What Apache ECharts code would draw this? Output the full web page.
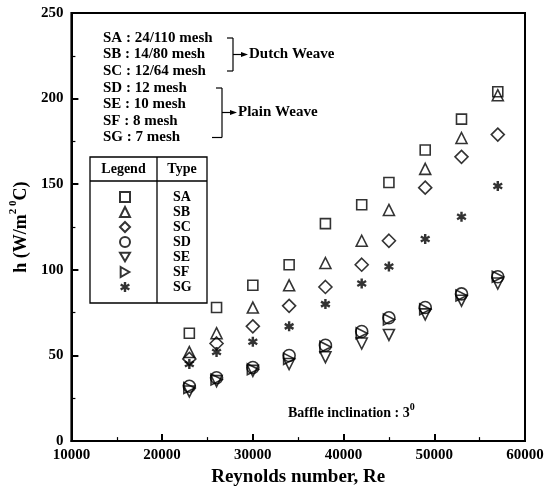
<!DOCTYPE html>
<html>
<head>
<meta charset="utf-8">
<script src="https://cdn.jsdelivr.net/npm/echarts@6/dist/echarts.min.js"></script>
<style>
  html, body { margin: 0; padding: 0; background: #fff; }
  #chart { width: 550px; height: 492px; }
</style>
</head>
<body>
<div id="chart"></div>
<script>
// ---- data ----
const reynolds = [23000, 26000, 30000, 34000, 38000, 42000, 45000, 49000, 53000, 57000];
const hSA = [63, 78, 91, 103, 127, 138, 151, 170, 188, 204];
const hSB = [52, 63, 78, 91, 104, 117, 135, 159, 177, 202];
const hSC = [48, 57, 67, 79, 90, 103, 117, 148, 166, 179];
const hSD = [32, 37, 43, 50, 56, 64, 72, 78, 86, 96];
const hSE = [29, 35, 41, 45, 49, 57, 62, 74, 82, 92];
const hSF = [31, 36, 42, 48, 55, 63, 71, 77, 85, 96];
const hSG = [45, 52, 58, 67, 80, 92, 102, 118, 131, 149];
const typeNames = ['SA', 'SB', 'SC', 'SD', 'SE', 'SF', 'SG'];
const meshLabels = ['SA : 24/110 mesh', 'SB : 14/80 mesh', 'SC : 12/64 mesh',
                    'SD : 12 mesh', 'SE : 10 mesh', 'SF : 8 mesh', 'SG : 7 mesh'];
const xTicks = { min: 10000, max: 60000, interval: 10000 };
const yTicks = { min: 0, max: 250, interval: 50 };

const FONT = '"Liberation Serif", "Times New Roman", serif';
const ASTERISK = 'path://M-1.2,-5L1.2,-5L1.2,5L-1.2,5Z M-4.93,-1.46L-3.73,-3.54L4.93,1.46L3.73,3.54Z M3.73,-3.54L4.93,-1.46L-3.73,3.54L-4.93,1.46Z';
const TRI_DOWN = 'path://M0,0L10,0L5,8.66Z';
const TRI_RIGHT = 'path://M0,0L8.66,5L0,10Z';

function pairs(ys) { return reynolds.map((x, i) => [x, ys[i]]); }

const hollow = { color: 'rgba(0,0,0,0)', borderColor: '#000', borderWidth: 1.6 };
const seriesDefs = [
  { name: 'SA', data: hSA, symbol: 'rect', size: 10, rotate: 0, icon: 'rect', style: hollow },
  { name: 'SB', data: hSB, symbol: 'triangle', size: 11, rotate: 0, icon: 'triangle', style: hollow },
  { name: 'SC', data: hSC, symbol: 'diamond', size: 13, rotate: 0, icon: 'diamond', style: hollow },
  { name: 'SD', data: hSD, symbol: 'circle', size: 12, rotate: 0, icon: 'circle', style: hollow },
  { name: 'SE', data: hSE, symbol: 'triangle', size: 11, rotate: 180, icon: TRI_DOWN, style: hollow },
  { name: 'SF', data: hSF, symbol: 'triangle', size: 11, rotate: -90, icon: TRI_RIGHT, style: hollow },
  { name: 'SG', data: hSG, symbol: ASTERISK, size: 10, rotate: 0, icon: ASTERISK, style: { color: '#000', borderWidth: 0 } }
];

const series = seriesDefs.map(d => ({
  name: d.name,
  type: 'scatter',
  data: pairs(d.data),
  symbol: d.symbol,
  symbolSize: d.size,
  symbolRotate: d.rotate,
  itemStyle: d.style,
  emphasis: { disabled: true },
  animation: false
}));

// ---- annotation graphics ----
const txt = (text, x, y, size, align) => ({
  type: 'text', silent: true,
  style: { text: text, x: x, y: y, font: 'bold ' + size + 'px ' + FONT, fill: '#000',
           textAlign: align || 'left', textVerticalAlign: 'middle' }
});
const ln = (x1, y1, x2, y2, w) => ({
  type: 'line', silent: true,
  shape: { x1: x1, y1: y1, x2: x2, y2: y2 },
  style: { stroke: '#000', lineWidth: w || 1.2 }
});
const arrowHead = (x, y) => ({
  type: 'polygon', silent: true,
  shape: { points: [[x, y], [x - 7, y - 2.5], [x - 7, y + 2.5]] },
  style: { fill: '#000' }
});

const meshY = [38, 54.5, 71, 88, 104.5, 121, 137.5];
const graphics = [];
meshLabels.forEach((t, i) => graphics.push(txt(t, 103, meshY[i], 15)));
// Dutch weave bracket
graphics.push(ln(227, 38, 233, 38), ln(233, 38, 233, 71), ln(227, 71, 233, 71),
              ln(233, 54.5, 243, 54.5), arrowHead(248, 54.5), txt('Dutch Weave', 249, 54.5, 15));
// Plain weave bracket
graphics.push(ln(216, 88, 222, 88), ln(222, 88, 222, 137.5), ln(212, 137.5, 222, 137.5),
              ln(222, 112.5, 232, 112.5), arrowHead(237, 112.5), txt('Plain Weave', 238, 112.5, 15));
// legend table
graphics.push({ type: 'rect', silent: true, shape: { x: 90, y: 157, width: 117, height: 146 },
                style: { fill: 'rgba(0,0,0,0)', stroke: '#000', lineWidth: 1.3 } });
graphics.push(ln(90, 181, 207, 181, 1.3), ln(157, 157, 157, 303, 1.3));
graphics.push(txt('Legend', 123.5, 169, 14, 'center'), txt('Type', 182, 169, 14, 'center'));
// baffle inclination note
graphics.push({
  type: 'text', silent: true,
  style: {
    text: '{a|Baffle inclination : 3}{s|0}', x: 288, y: 411,
    textVerticalAlign: 'middle', textAlign: 'left',
    rich: {
      a: { font: 'bold 14px ' + FONT, fill: '#000', lineHeight: 18, verticalAlign: 'bottom' },
      s: { font: 'bold 10px ' + FONT, fill: '#000', lineHeight: 18, verticalAlign: 'top' }
    }
  }
});

const legendData = seriesDefs.map(d => ({ name: d.name, icon: d.icon }));

const chart = echarts.init(document.getElementById('chart'), null, { renderer: 'canvas' });
chart.setOption({
  backgroundColor: '#fff',
  animation: false,
  textStyle: { fontFamily: FONT },
  grid: { left: 63, right: 25, top: 13, bottom: 44, show: true, borderColor: '#000', borderWidth: 2 },
  legend: {
    data: legendData,
    orient: 'vertical',
    left: 114, top: 185,
    itemWidth: 10, itemHeight: 10, itemGap: 1,
    selectedMode: false,
    formatter: name => '{t|' + name + '}',
    textStyle: {
      rich: { t: { fontFamily: FONT, fontWeight: 'bold', fontSize: 14, lineHeight: 12,
                   color: '#000', padding: [0, 0, 0, 38] } }
    }
  },
  xAxis: {
    type: 'value', min: xTicks.min, max: xTicks.max, interval: xTicks.interval,
    name: 'Reynolds number, Re', nameLocation: 'middle', nameGap: 20,
    nameTextStyle: { fontFamily: FONT, fontWeight: 'bold', fontSize: 19, color: '#000' },
    axisLine: { lineStyle: { color: '#000', width: 2 } },
    axisTick: { inside: true, length: 7, lineStyle: { color: '#000', width: 2 } },
    minorTick: { show: true, splitNumber: 2, length: 4, lineStyle: { color: '#000', width: 1.2 } },
    axisLabel: { fontFamily: FONT, fontWeight: 'bold', fontSize: 15, color: '#000', margin: 7,
                 formatter: v => String(v) },
    splitLine: { show: false }
  },
  yAxis: {
    type: 'value', min: yTicks.min, max: yTicks.max, interval: yTicks.interval,
    name: '{a|h (W/m}{s|2 0}{a|C)}', nameLocation: 'middle', nameGap: 34,
    nameTextStyle: {
      rich: {
        a: { fontFamily: FONT, fontWeight: 'bold', fontSize: 18, lineHeight: 22, color: '#000', verticalAlign: 'bottom' },
        s: { fontFamily: FONT, fontWeight: 'bold', fontSize: 11, lineHeight: 22, color: '#000', verticalAlign: 'top' }
      }
    },
    axisLine: { lineStyle: { color: '#000', width: 2 } },
    axisTick: { inside: true, length: 7, lineStyle: { color: '#000', width: 2 } },
    minorTick: { show: true, splitNumber: 2, length: 4, lineStyle: { color: '#000', width: 1.2 } },
    axisLabel: { fontFamily: FONT, fontWeight: 'bold', fontSize: 15, color: '#000', margin: 8 },
    splitLine: { show: false }
  },
  graphic: graphics,
  series: series
});
</script>
</body>
</html>
